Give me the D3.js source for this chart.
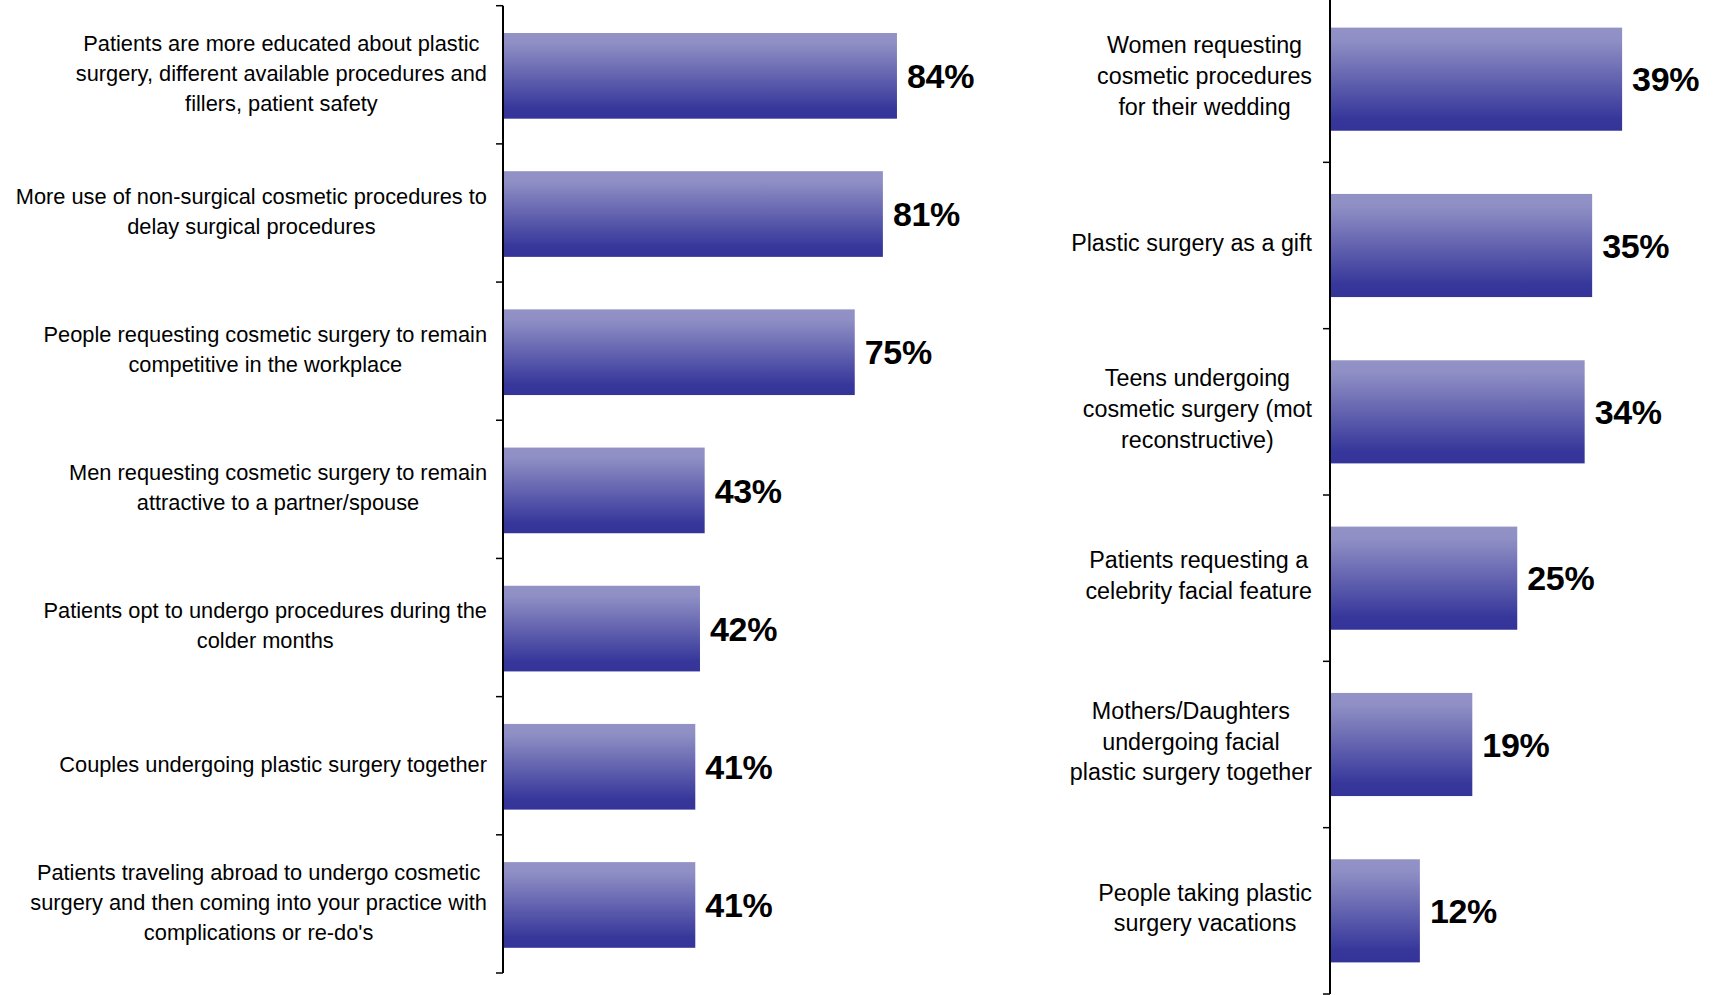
<!DOCTYPE html>
<html>
<head>
<meta charset="utf-8">
<script src="https://cdn.jsdelivr.net/npm/d3@7/dist/d3.min.js"></script>
<style>
  html, body { margin: 0; padding: 0; background: #ffffff; }
  svg { display: block; }
</style>
</head>
<body>
<svg id="chart" width="1713" height="995"></svg>
<script>
// ---- Data ----
const leftCategories = [
  "Patients are more educated about plastic|surgery, different available procedures and|fillers, patient safety",
  "More use of non-surgical cosmetic procedures to|delay surgical procedures",
  "People requesting cosmetic surgery to remain|competitive in the workplace",
  "Men requesting cosmetic surgery to remain|attractive to a partner/spouse",
  "Patients opt to undergo procedures during the|colder months",
  "Couples undergoing plastic surgery together",
  "Patients traveling abroad to undergo cosmetic|surgery and then coming into your practice with|complications or re-do's"
];
const leftValues = [84, 81, 75, 43, 42, 41, 41];

const rightCategories = [
  "Women requesting|cosmetic procedures|for their wedding",
  "Plastic surgery as a gift",
  "Teens undergoing|cosmetic surgery (mot|reconstructive)",
  "Patients requesting a|celebrity facial feature",
  "Mothers/Daughters|undergoing facial|plastic surgery together",
  "People taking plastic|surgery vacations"
];
const rightValues = [39, 35, 34, 25, 19, 12];

// ---- Drawing ----
const svg = d3.select("#chart");
const defs = svg.append("defs");
const grad = defs.append("linearGradient")
  .attr("id", "barGrad").attr("x1", 0).attr("y1", 0).attr("x2", 0).attr("y2", 1);
grad.append("stop").attr("offset", "0%").attr("stop-color", "#9292c7");
grad.append("stop").attr("offset", "12%").attr("stop-color", "#8f8fc5");
grad.append("stop").attr("offset", "88%").attr("stop-color", "#37379b");
grad.append("stop").attr("offset", "100%").attr("stop-color", "#333399");

const labelFont = "'Liberation Sans', Arial, Helvetica, sans-serif";

function panel(cfg) {
  const data = cfg.categories.map((c, i) => ({ cat: c, value: cfg.values[i], i }));
  const y = d3.scaleBand()
    .domain(data.map(d => d.i))
    .range([cfg.y0, cfg.y1])
    .paddingInner(0.38)
    .paddingOuter(0.19)
    .align(cfg.align);
  const x = d3.scaleLinear().domain([0, 100]).range([cfg.x0, cfg.x0 + cfg.pxPer100]);

  const g = svg.append("g");

  // bars
  g.selectAll("rect.bar").data(data).join("rect")
    .attr("class", "bar")
    .attr("x", x(0))
    .attr("y", d => y(d.i))
    .attr("width", d => x(d.value) - x(0))
    .attr("height", y.bandwidth())
    .attr("fill", "url(#barGrad)");

  // axis line + ticks at category boundaries
  const step = y.step();
  const ticks = d3.range(data.length + 1).map(k => cfg.y0 + k * step);
  g.append("line")
    .attr("x1", x(0)).attr("x2", x(0))
    .attr("y1", cfg.y0).attr("y2", cfg.y1)
    .attr("stroke", "#000").attr("stroke-width", 2);
  g.selectAll("line.tick").data(ticks).join("line")
    .attr("class", "tick")
    .attr("x1", x(0) - 7).attr("x2", x(0))
    .attr("y1", d => d).attr("y2", d => d)
    .attr("stroke", "#000").attr("stroke-width", 1.5);

  // value labels
  const vfs = 34;
  g.selectAll("text.val").data(data).join("text")
    .attr("class", "val")
    .attr("x", d => x(d.value) + 10)
    .attr("y", d => y(d.i) + y.bandwidth() / 2 + vfs * 0.36)
    .attr("font-family", labelFont)
    .attr("font-weight", "bold")
    .attr("font-size", vfs)
    .attr("letter-spacing", "-0.3")
    .attr("fill", "#000")
    .text(d => d.value + "%");

  // category labels
  const fs = cfg.fontSize, lh = cfg.lineHeight;
  const rightEdge = x(0) - cfg.labelGap;
  data.forEach(d => {
    const lines = d.cat.split("|");
    const cy = y(d.i) + y.bandwidth() / 2;
    const t = g.append("text")
      .attr("font-family", labelFont)
      .attr("font-size", fs)
      .attr("fill", "#000")
      .attr("text-anchor", "middle");
    const spans = lines.map((ln, k) => t.append("tspan")
      .attr("x", 0)
      .attr("y", cy + (k - (lines.length - 1) / 2) * lh + fs * 0.22)
      .text(ln));
    const maxW = d3.max(spans, s => s.node().getComputedTextLength());
    spans.forEach(s => s.attr("x", rightEdge - maxW / 2));
  });
}

panel({ categories: leftCategories, values: leftValues, x0: 503, pxPer100: 469, y0: 5.7, y1: 973,
        align: 0.52, fontSize: 21.8, lineHeight: 30, labelGap: 16 });
panel({ categories: rightCategories, values: rightValues, x0: 1330, pxPer100: 749, y0: -4, y1: 994,
        align: 0.5, fontSize: 23.3, lineHeight: 30.8, labelGap: 18 });
</script>
</body>
</html>
